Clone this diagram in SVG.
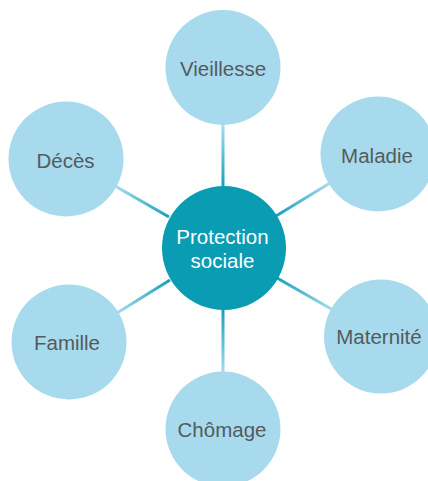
<svg xmlns="http://www.w3.org/2000/svg" width="428" height="481" viewBox="0 0 428 481">
  <style>
    .outer { fill: #a6daec; }
    .hub { fill: #0a9cb2; }
    .lbl { font-family: "Liberation Sans", Arial, sans-serif; font-size: 20.5px; fill: #555a5d; text-anchor: middle; }
    .hublbl { font-family: "Liberation Sans", Arial, sans-serif; font-size: 20.5px; fill: #ffffff; text-anchor: middle; }
    .conn { stroke-width: 3; fill: none; }
  </style>
  <defs>
    <linearGradient id="gV" gradientUnits="userSpaceOnUse" x1="223" y1="186" x2="223" y2="125"><stop offset="0" stop-color="#14a0bd"/><stop offset="1" stop-color="#a6daec"/></linearGradient>
    <linearGradient id="gM" gradientUnits="userSpaceOnUse" x1="276" y1="216" x2="329" y2="184"><stop offset="0" stop-color="#14a0bd"/><stop offset="1" stop-color="#a6daec"/></linearGradient>
    <linearGradient id="gD" gradientUnits="userSpaceOnUse" x1="169" y1="217" x2="116" y2="187"><stop offset="0" stop-color="#14a0bd"/><stop offset="1" stop-color="#a6daec"/></linearGradient>
    <linearGradient id="gT" gradientUnits="userSpaceOnUse" x1="277" y1="278" x2="332" y2="309"><stop offset="0" stop-color="#14a0bd"/><stop offset="1" stop-color="#a6daec"/></linearGradient>
    <linearGradient id="gH" gradientUnits="userSpaceOnUse" x1="223" y1="310" x2="223" y2="372"><stop offset="0" stop-color="#14a0bd"/><stop offset="1" stop-color="#a6daec"/></linearGradient>
    <linearGradient id="gF" gradientUnits="userSpaceOnUse" x1="170" y1="280" x2="118" y2="312"><stop offset="0" stop-color="#14a0bd"/><stop offset="1" stop-color="#a6daec"/></linearGradient>
  </defs>
  <rect width="428" height="481" fill="#ffffff"/>
  <g id="connectors" class="conn">
    <line x1="223" y1="186" x2="223" y2="124" stroke="url(#gV)"/>
    <line x1="276" y1="216" x2="330" y2="183" stroke="url(#gM)"/>
    <line x1="169" y1="217" x2="115" y2="186" stroke="url(#gD)"/>
    <line x1="277" y1="278" x2="333" y2="310" stroke="url(#gT)"/>
    <line x1="223" y1="310" x2="223" y2="373" stroke="url(#gH)"/>
    <line x1="170" y1="280" x2="117" y2="313" stroke="url(#gF)"/>
  </g>
  <g id="vieillesse">
    <circle class="outer" cx="223" cy="67.5" r="57.5"/>
    <text class="lbl" x="223" y="75.5">Vieillesse</text>
  </g>
  <g id="maladie">
    <circle class="outer" cx="378" cy="154" r="57.5"/>
    <text class="lbl" x="377" y="162.5">Maladie</text>
  </g>
  <g id="deces">
    <circle class="outer" cx="66" cy="159" r="57.5"/>
    <text class="lbl" x="65.5" y="167.5">Décès</text>
  </g>
  <g id="maternite">
    <circle class="outer" cx="381" cy="336.5" r="57"/>
    <text class="lbl" x="379" y="344">Maternité</text>
  </g>
  <g id="chomage">
    <circle class="outer" cx="223" cy="429" r="57.5"/>
    <text class="lbl" x="222" y="436.5">Chômage</text>
  </g>
  <g id="famille">
    <circle class="outer" cx="69" cy="342" r="57.5"/>
    <text class="lbl" x="67" y="349.5">Famille</text>
  </g>
  <g id="protection-sociale">
    <circle class="hub" cx="224" cy="248" r="62"/>
    <text class="hublbl" x="222.5" y="244">Protection</text>
    <text class="hublbl" x="222.5" y="268">sociale</text>
  </g>
</svg>
